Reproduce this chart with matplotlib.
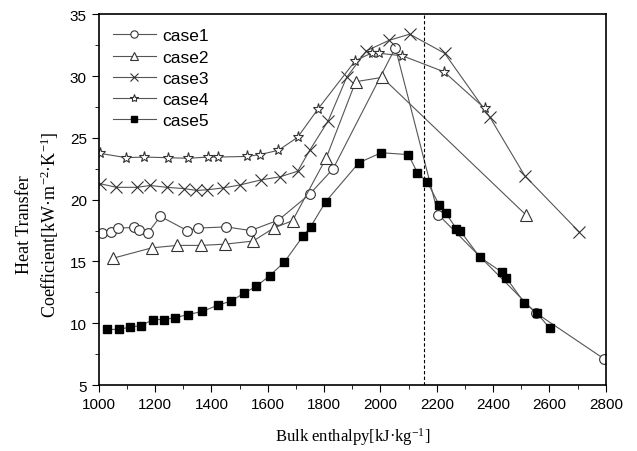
import numpy as np
import matplotlib
matplotlib.use("Agg")
import matplotlib.pyplot as plt
from matplotlib.ticker import MultipleLocator

# datos
h1 = [1013, 1044, 1070, 1124, 1143, 1174, 1219, 1314, 1351, 1453, 1539, 1638, 1749, 1832, 2053, 2205, 2551, 2795]
c1 = [17.3, 17.4, 17.7, 17.75, 17.55, 17.3, 18.65, 17.5, 17.7, 17.8, 17.5, 18.35, 20.45, 22.5, 32.3, 18.8, 10.85, 7.1]

h2 = [1049, 1188, 1278, 1363, 1448, 1548, 1621, 1688, 1808, 1912, 2006, 2515]
c2 = [15.25, 16.1, 16.3, 16.3, 16.4, 16.65, 17.7, 18.3, 23.4, 29.55, 29.9, 18.8]

h3 = [1004, 1063, 1136, 1183, 1242, 1302, 1347, 1385, 1441, 1503, 1576, 1643, 1706, 1749,
      1815, 1880, 1950, 2031, 2104, 2228, 2388, 2512, 2705]
c3 = [21.3, 21.0, 21.0, 21.15, 21.0, 20.9, 20.75, 20.8, 20.95, 21.2, 21.6, 21.85, 22.3, 24.0,
      26.4, 29.9, 32.05, 32.9, 33.4, 31.85, 26.7, 21.95, 17.4]

h4 = [1004, 1098, 1160, 1245, 1316, 1387, 1422, 1526, 1572, 1638, 1706, 1777, 1911, 1971,
      1995, 2078, 2226, 2370]
c4 = [23.75, 23.4, 23.45, 23.4, 23.35, 23.45, 23.45, 23.5, 23.65, 24.0, 25.05, 27.3, 31.25, 31.9,
      31.85, 31.65, 30.35, 27.4]

h5 = [1029, 1072, 1112, 1150, 1193, 1233, 1271, 1316, 1367, 1422, 1470, 1517, 1560, 1607,
      1659, 1725, 1752, 1806, 1924, 2003, 2099, 2131, 2167, 2208, 2232, 2270, 2284, 2353,
      2430, 2446, 2511, 2556, 2601]
c5 = [9.5, 9.5, 9.7, 9.8, 10.3, 10.3, 10.45, 10.7, 10.95, 11.45, 11.8, 12.45, 13.0, 13.85,
      14.95, 17.05, 17.8, 19.85, 23.0, 23.8, 23.65, 22.2, 21.4, 19.6, 18.9, 17.65, 17.45, 15.35,
      14.15, 13.7, 11.65, 10.8, 9.6]

h_limite = 2153

plt.rcParams['font.family'] = ['Liberation Sans', 'DejaVu Sans']
plt.rcParams['mathtext.fontset'] = 'custom'
plt.rcParams['mathtext.rm'] = 'Liberation Serif'
plt.rcParams['mathtext.it'] = 'Liberation Serif:italic'
plt.rcParams['mathtext.bf'] = 'Liberation Serif:bold'

fig = plt.figure(figsize=(6.37, 4.52), dpi=100)
ax = fig.add_axes([0.155, 0.146, 0.796, 0.820])

linea = dict(color='#555555', lw=0.8, markeredgecolor='#333333', markeredgewidth=0.8)
ax.plot(h1, c1, marker='o', ms=7, markerfacecolor='white', label='case1', **linea)
ax.plot(h2, c2, marker='^', ms=8, markerfacecolor='white', label='case2', **linea)
ax.plot(h3, c3, marker='x', ms=8, label='case3', **linea)
ax.plot(h4, c4, marker='*', ms=8, markerfacecolor='white', label='case4', **linea)
ax.plot(h5, c5, marker='s', ms=6, markerfacecolor='black', color='#555555', lw=0.8,
        markeredgecolor='black', label='case5')

ax.axvline(h_limite, color='black', lw=0.8, ls=(0, (3, 2)))

ax.set_xlim(1000, 2800)
ax.set_ylim(5, 35)
ax.xaxis.set_major_locator(MultipleLocator(200))
ax.xaxis.set_minor_locator(MultipleLocator(100))
ax.yaxis.set_major_locator(MultipleLocator(5))
ax.yaxis.set_minor_locator(MultipleLocator(2.5))
ax.tick_params(which='both', direction='out', labelsize=11, top=False, right=False)
ax.tick_params(which='major', length=5)
ax.tick_params(which='minor', length=3)
for s in ax.spines.values():
    s.set_linewidth(1.2)

ax.set_xlabel('Bulk enthalpy[kJ·kg$^{\\mathrm{-1}}$]', family='Liberation Serif', fontsize=12, labelpad=10)
ax.set_ylabel('Heat Transfer\nCoefficient[kW·m$^{\\mathrm{-2}}$·K$^{\\mathrm{-1}}$]',
              family='Liberation Serif', fontsize=13, linespacing=1.3)
ax.yaxis.set_label_coords(-0.075, 0.435)

ax.legend(loc='upper left', frameon=False, fontsize=12.5, handlelength=2.5,
          labelspacing=0.35, borderaxespad=0.4, handletextpad=0.35, markerscale=0.75)

plt.savefig('out.png', dpi=100)
